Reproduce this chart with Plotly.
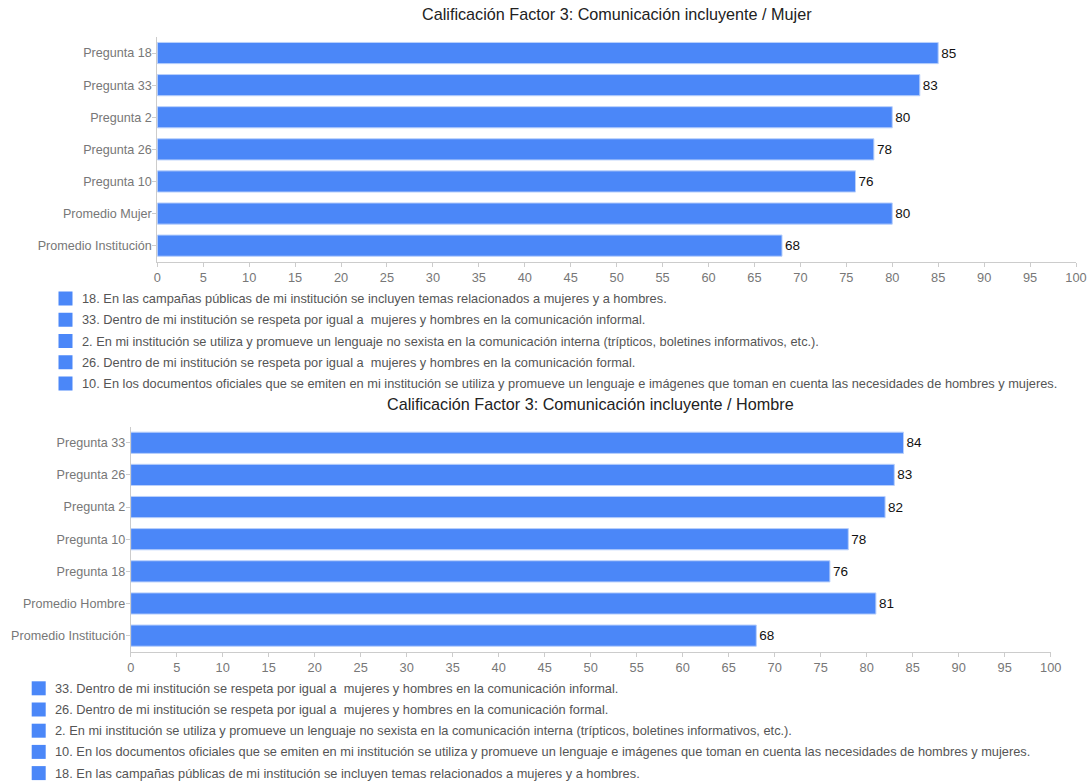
import plotly.graph_objects as go

W, H = 1089, 781

# ---- data ----
cats_mujer = ["Pregunta 18", "Pregunta 33", "Pregunta 2", "Pregunta 26", "Pregunta 10",
              "Promedio Mujer", "Promedio Institución"]
vals_mujer = [85, 83, 80, 78, 76, 80, 68]
legend_mujer = [
    "18. En las campañas públicas de mi institución se incluyen temas relacionados a mujeres y a hombres.",
    "33. Dentro de mi institución se respeta por igual a  mujeres y hombres en la comunicación informal.",
    "2. En mi institución se utiliza y promueve un lenguaje no sexista en la comunicación interna (trípticos, boletines informativos, etc.).",
    "26. Dentro de mi institución se respeta por igual a  mujeres y hombres en la comunicación formal.",
    "10. En los documentos oficiales que se emiten en mi institución se utiliza y promueve un lenguaje e imágenes que toman en cuenta las necesidades de hombres y mujeres.",
]
title_mujer = "Calificación Factor 3: Comunicación incluyente / Mujer"

cats_hombre = ["Pregunta 33", "Pregunta 26", "Pregunta 2", "Pregunta 10", "Pregunta 18",
               "Promedio Hombre", "Promedio Institución"]
vals_hombre = [84, 83, 82, 78, 76, 81, 68]
legend_hombre = [
    "33. Dentro de mi institución se respeta por igual a  mujeres y hombres en la comunicación informal.",
    "26. Dentro de mi institución se respeta por igual a  mujeres y hombres en la comunicación formal.",
    "2. En mi institución se utiliza y promueve un lenguaje no sexista en la comunicación interna (trípticos, boletines informativos, etc.).",
    "10. En los documentos oficiales que se emiten en mi institución se utiliza y promueve un lenguaje e imágenes que toman en cuenta las necesidades de hombres y mujeres.",
    "18. En las campañas públicas de mi institución se incluyen temas relacionados a mujeres y a hombres.",
]
title_hombre = "Calificación Factor 3: Comunicación incluyente / Hombre"

x_ticks = list(range(0, 101, 5))

# ---- style ----
FONT = "Liberation Sans, Arial, sans-serif"
BAR = "#4b87f8"
BAR_LINE = "#b9d0fb"
AX_LINE = "#cccccc"
TICK_COL = "#777777"


def px_x(x):
    return x / W


def px_y(y):
    return 1 - y / H


fig = go.Figure()

fig.add_trace(go.Bar(
    y=cats_mujer, x=vals_mujer, orientation="h",
    marker=dict(color=BAR, line=dict(color=BAR_LINE, width=1)),
    text=[str(v) for v in vals_mujer], textposition="outside",
    textfont=dict(family=FONT, size=13.5, color="#111111"),
    cliponaxis=False, xaxis="x", yaxis="y", showlegend=False,
))
fig.add_trace(go.Bar(
    y=cats_hombre, x=vals_hombre, orientation="h",
    marker=dict(color=BAR, line=dict(color=BAR_LINE, width=1)),
    text=[str(v) for v in vals_hombre], textposition="outside",
    textfont=dict(family=FONT, size=13.5, color="#111111"),
    cliponaxis=False, xaxis="x2", yaxis="y2", showlegend=False,
))

xcommon = dict(range=[0, 100], tickvals=x_ticks, showgrid=False, zeroline=False,
               showline=True, linecolor=AX_LINE, linewidth=1, automargin=False,
               ticks="outside", ticklen=4, tickcolor=AX_LINE,
               tickfont=dict(family=FONT, size=12.8, color=TICK_COL), fixedrange=True)
ycommon = dict(autorange="reversed", showgrid=False, zeroline=False,
               showline=True, linecolor=AX_LINE, linewidth=1, automargin=False,
               ticks="outside", ticklen=4, tickcolor=AX_LINE, ticklabelstandoff=-2,
               tickfont=dict(family=FONT, size=12.6, color=TICK_COL), fixedrange=True)

fig.update_layout(
    width=W, height=H,
    margin=dict(l=0, r=0, t=0, b=0, autoexpand=False),
    paper_bgcolor="white", plot_bgcolor="white",
    bargap=0.34,
    xaxis=dict(domain=[px_x(157.3), px_x(1076)], anchor="y", **xcommon),
    yaxis=dict(domain=[px_y(261.7), px_y(37)], anchor="x", **ycommon),
    xaxis2=dict(domain=[px_x(130.7), px_x(1050.7)], anchor="y2", **xcommon),
    yaxis2=dict(domain=[px_y(651.7), px_y(426.7)], anchor="x2", **ycommon),
    font=dict(family=FONT),
)

annotations = [
    dict(text=title_mujer, x=px_x(616.5), y=px_y(14), xref="paper", yref="paper",
         xanchor="center", yanchor="middle", showarrow=False,
         font=dict(family=FONT, size=16.2, color="#222222")),
    dict(text=title_hombre, x=px_x(590.7), y=px_y(404), xref="paper", yref="paper",
         xanchor="center", yanchor="middle", showarrow=False,
         font=dict(family=FONT, size=16.2, color="#222222")),
]
shapes = []


def add_legend(items, sq_x, y0, step):
    for i, t in enumerate(items):
        yc = y0 + i * step
        shapes.append(dict(type="rect", xref="paper", yref="paper",
                           x0=px_x(sq_x), x1=px_x(sq_x + 14),
                           y0=px_y(yc + 7), y1=px_y(yc - 7),
                           fillcolor=BAR, line=dict(width=0)))
        annotations.append(dict(text=t, x=px_x(sq_x + 21), y=px_y(yc), xref="paper", yref="paper",
                                xanchor="left", yanchor="middle", showarrow=False,
                                font=dict(family=FONT, size=12.8, color="#555555")))


add_legend(legend_mujer, 58.5, 298.5, 21.25)
add_legend(legend_hombre, 31.7, 688.3, 21.2)

fig.update_layout(annotations=annotations, shapes=shapes)

fig.write_html("out.html")
